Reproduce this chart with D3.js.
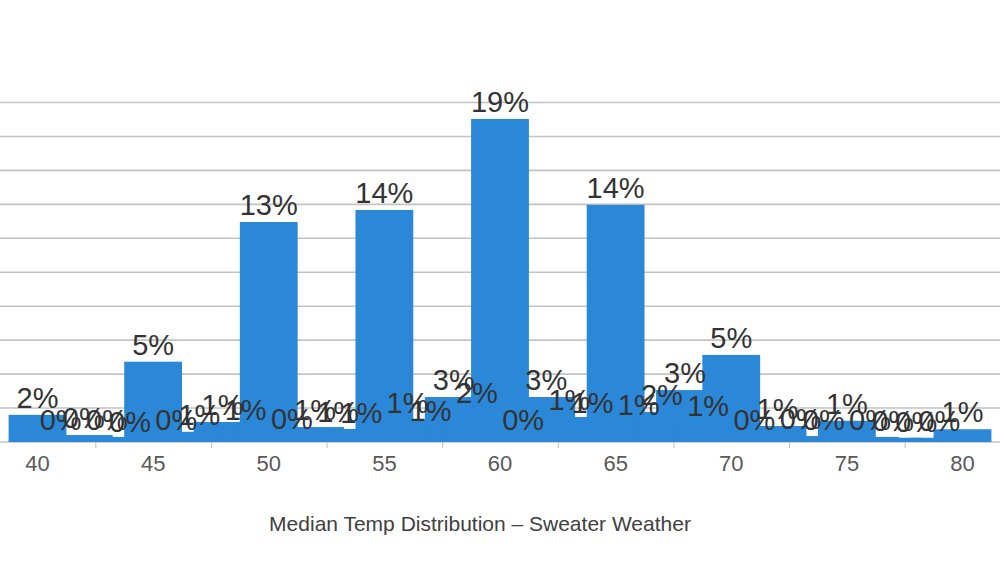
<!DOCTYPE html>
<html>
<head>
<meta charset="utf-8">
<script src="https://cdn.jsdelivr.net/npm/d3@7"></script>
<style>
  html, body { margin: 0; padding: 0; background: #fff; }
  svg { display: block; font-family: "Liberation Sans", Arial, sans-serif; }
</style>
</head>
<body>
<svg id="chart" width="1000" height="564"></svg>
<script>
// ---- data (percent of days by median temperature) ----
const temps = d3.range(40, 81);
const shares = [
  1.6, 0.3, 0.41, 0.3, 0.2,
  4.73, 0.3, 0.6, 1.18, 0.9,
  12.96, 0.35, 0.88, 0.77, 0.7,
  13.67, 1.3, 0.85, 2.65, 1.9,
  19.03, 0.3, 2.65, 1.47, 1.3,
  13.97, 1.2, 1.77, 3.06, 1.1,
  5.13, 0.3, 0.94, 0.35, 0.3,
  1.25, 0.3, 0.25, 0.2, 0.25,
  0.75
];
const tickLabels = [40, 45, 50, 55, 60, 65, 70, 75, 80];
const gridValues = [0, 2, 4, 6, 8, 10, 12, 14, 16, 18, 20];
const title = "Median Temp Distribution \u2013 Sweater Weather";

const data = temps.map((t, i) => ({ t, v: shares[i] }));

const svg = d3.select("#chart");
const step = 23.125;
const x = d3.scaleBand().domain(temps).range([37.5 - step / 2, 962.5 + step / 2]).padding(0);
const xLin = d3.scaleLinear().domain([40, 80]).range([37.5, 962.5]);
const y = d3.scaleLinear().domain([0, 20]).range([442, 102.5]);
const barW = step * 2.5;
const cx = t => x(t) + x.bandwidth() / 2;

// gridlines
svg.append("g").selectAll("line").data(gridValues).join("line")
  .attr("x1", 0).attr("x2", 1000)
  .attr("y1", d => y(d)).attr("y2", d => y(d))
  .attr("stroke", "#c3c3c3").attr("stroke-width", 1.6);

// bars
svg.append("g").selectAll("rect").data(data).join("rect")
  .attr("x", d => cx(d.t) - barW / 2)
  .attr("width", barW)
  .attr("y", d => y(d.v))
  .attr("height", d => y(0) - y(d.v))
  .attr("fill", "#2b88d8");

// tick marks between labelled groups
const tickAxis = d3.axisBottom(xLin)
  .tickValues([42.5, 47.5, 52.5, 57.5, 62.5, 67.5, 72.5, 77.5])
  .tickSize(6).tickFormat("");
const tg = svg.append("g").attr("transform", `translate(0,${y(0)})`).call(tickAxis);
tg.select(".domain").remove();
tg.selectAll("line").attr("stroke", "#bfbfbf").attr("stroke-width", 1);

// category labels
const labAxis = d3.axisBottom(x).tickValues(tickLabels).tickSize(0).tickPadding(13);
const lg = svg.append("g").attr("transform", `translate(0,${y(0)})`).call(labAxis);
lg.select(".domain").remove();
lg.selectAll("text")
  .attr("font-family", "'Liberation Sans', Arial, sans-serif")
  .attr("font-size", 22).attr("fill", "#595959");

// data labels
svg.append("g").selectAll("text").data(data).join("text")
  .attr("x", d => cx(d.t))
  .attr("y", d => y(d.v) - 7)
  .attr("text-anchor", "middle")
  .attr("font-size", 29)
  .attr("fill", "#333333")
  .text(d => Math.round(d.v) + "%");

// title
svg.append("text")
  .attr("x", 480).attr("y", 531)
  .attr("text-anchor", "middle")
  .attr("font-size", 21)
  .attr("fill", "#404040")
  .text(title);
</script>
</body>
</html>
